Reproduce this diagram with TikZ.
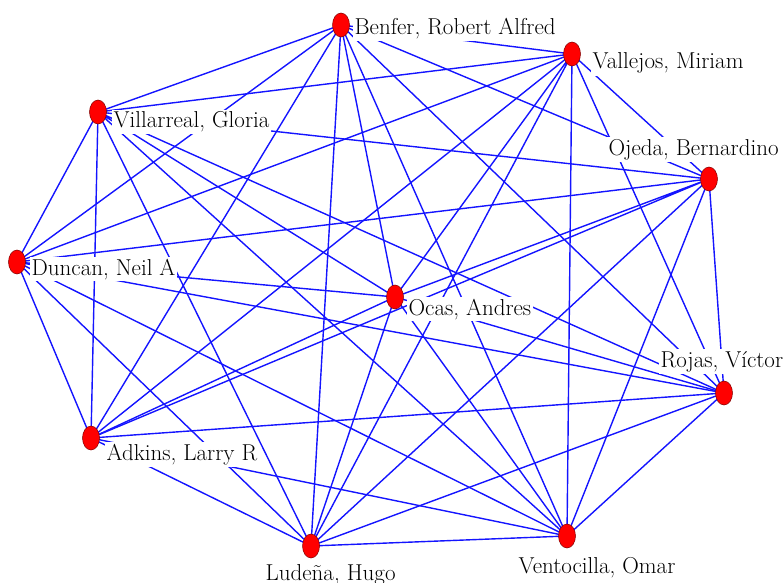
\documentclass[tikz,border=0pt]{standalone}
\begin{document}
\begin{tikzpicture}[x=1pt,y=-1pt,line width=1.3pt,
		arista/.style={color=blue!92!white,line width=1.4pt},
		punto/.style={fill=red,draw=red!50!black,line width=0.5pt},
		etiq/.style={fill=white,inner sep=2pt,anchor=base west,font=\fontsize{23}{27}\selectfont}]
		\useasboundingbox (0,0) rectangle (784,583);
		\coordinate (benfer) at (341,25);
		\coordinate (vallejos) at (572,54);
		\coordinate (villarreal) at (98,112);
		\coordinate (ojeda) at (709,179);
		\coordinate (duncan) at (17,262);
		\coordinate (ocas) at (395,297);
		\coordinate (rojas) at (724,393);
		\coordinate (adkins) at (91,438);
		\coordinate (ludena) at (311,546);
		\coordinate (ventocilla) at (567,536);
		% aristas
		\draw[arista] (benfer)--(vallejos) (benfer)--(villarreal) (benfer)--(ojeda) (benfer)--(duncan) (benfer)--(ocas) (benfer)--(rojas) (benfer)--(adkins) (benfer)--(ludena) (benfer)--(ventocilla);
		\draw[arista] (vallejos)--(villarreal) (vallejos)--(ojeda) (vallejos)--(duncan) (vallejos)--(ocas) (vallejos)--(rojas) (vallejos)--(adkins) (vallejos)--(ludena) (vallejos)--(ventocilla);
		\draw[arista] (villarreal)--(ojeda) (villarreal)--(duncan) (villarreal)--(ocas) (villarreal)--(rojas) (villarreal)--(adkins) (villarreal)--(ludena) (villarreal)--(ventocilla);
		\draw[arista] (ojeda)--(duncan) (ojeda)--(ocas) (ojeda)--(rojas) (ojeda)--(adkins) (ojeda)--(ludena) (ojeda)--(ventocilla);
		\draw[arista] (duncan)--(ocas) (duncan)--(rojas) (duncan)--(adkins) (duncan)--(ludena) (duncan)--(ventocilla);
		\draw[arista] (ocas)--(rojas) (ocas)--(adkins) (ocas)--(ludena) (ocas)--(ventocilla);
		\draw[arista] (rojas)--(adkins) (rojas)--(ludena) (rojas)--(ventocilla);
		\draw[arista] (adkins)--(ludena) (adkins)--(ventocilla);
		\draw[arista] (ludena)--(ventocilla);
		% nombres
		\node[etiq] (nbenfer) at (352,35) {Benfer, Robert Alfred};
		\node[etiq] (nvallejos) at (590,69) {Vallejos, Miriam};
		\node[etiq] (nvillarreal) at (111,128) {Villarreal, Gloria};
		\node[etiq] (nojeda) at (606,155) {Ojeda, Bernardino};
		\node[etiq] (nduncan) at (29,275) {Duncan, Neil A};
		\node[etiq] (nocas) at (406,315) {Ocas, Andres};
		\node[etiq] (nrojas) at (658,367) {Rojas, Víctor};
		\node[etiq] (nadkins) at (104,460) {Adkins, Larry R};
		\node[etiq] (nludena) at (263,580) {Ludeña, Hugo};
		\node[etiq] (nventocilla) at (516,573) {Ventocilla, Omar};
		% vertices
		\filldraw[punto] (benfer) ellipse (8.5pt and 12pt);
		\filldraw[punto] (vallejos) ellipse (8.5pt and 12pt);
		\filldraw[punto] (villarreal) ellipse (8.5pt and 12pt);
		\filldraw[punto] (ojeda) ellipse (8.5pt and 12pt);
		\filldraw[punto] (duncan) ellipse (8.5pt and 12pt);
		\filldraw[punto] (ocas) ellipse (8.5pt and 12pt);
		\filldraw[punto] (rojas) ellipse (8.5pt and 12pt);
		\filldraw[punto] (adkins) ellipse (8.5pt and 12pt);
		\filldraw[punto] (ludena) ellipse (8.5pt and 12pt);
		\filldraw[punto] (ventocilla) ellipse (8.5pt and 12pt);
\end{tikzpicture}
\end{document}
